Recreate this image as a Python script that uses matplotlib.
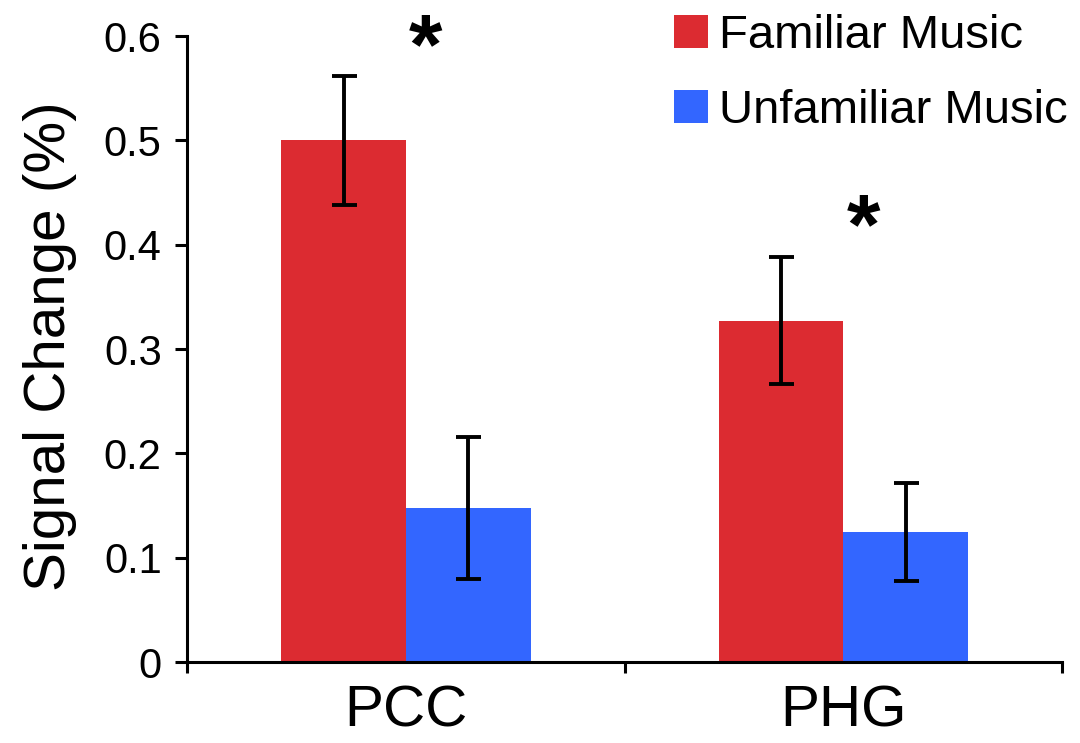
import matplotlib
matplotlib.use("Agg")
import matplotlib.pyplot as plt
import numpy as np

plt.rcParams['font.family'] = ['Liberation Sans', 'DejaVu Sans']

regions = ["PCC", "PHG"]
series_names = ["Familiar Music", "Unfamiliar Music"]
familiar = [0.500, 0.327]
familiar_err = [0.062, 0.061]
unfamiliar = [0.148, 0.125]
unfamiliar_err = [0.068, 0.047]
star_heights = [0.603, 0.430]
y_ticks = [0, 0.1, 0.2, 0.3, 0.4, 0.5, 0.6]
y_tick_labels = ["0", "0.1", "0.2", "0.3", "0.4", "0.5", "0.6"]

red = "#DC2B31"
blue = "#3366FF"

fig = plt.figure(figsize=(10.8, 7.43), dpi=100)
ax = fig.add_axes([0.1735, 0.109, 0.810, 0.8425])

x = np.arange(len(regions))
w = 0.285
err_kw = dict(ecolor="black", elinewidth=2.8, capsize=9, capthick=2.8)
ax.bar(x - w / 2, familiar, w, color=red, yerr=familiar_err,
       error_kw=err_kw, label=series_names[0], zorder=1)
ax.bar(x + w / 2, unfamiliar, w, color=blue, yerr=unfamiliar_err,
       error_kw=err_kw, label=series_names[1], zorder=1)

# significance markers, glyph centred on the given height
for xi, h in zip(x, star_heights):
    ax.annotate("*", xy=(xi + 0.045, h), xytext=(0, -13),
                textcoords="offset points", ha="center", va="center",
                fontsize=62, fontweight="bold", color="black",
                annotation_clip=False)

ax.set_xlim(-0.5, 1.5)
ax.set_ylim(0, 0.6)

for side in ("top", "right"):
    ax.spines[side].set_visible(False)
for side in ("left", "bottom"):
    ax.spines[side].set_linewidth(2.2)
    ax.spines[side].set_zorder(3)

ax.set_yticks(y_ticks)
ax.set_yticklabels(y_tick_labels)
ax.tick_params(axis="y", direction="out", length=8.5, width=2.2,
               labelsize=30, pad=10)

# group boundaries carry the ticks, region names sit under the group centres
ax.set_xticks([-0.5, 0.5, 1.5])
ax.set_xticklabels(["", "", ""])
ax.tick_params(axis="x", which="major", direction="out", length=8, width=2.2)
ax.set_xticks(x, minor=True)
ax.set_xticklabels(regions, minor=True)
ax.tick_params(axis="x", which="minor", length=0, labelsize=42, pad=16)

ax.set_ylabel("Signal Change (%)", fontsize=42)
ax.yaxis.set_label_coords(-0.126, 0.505)

ax.legend(loc="upper right", bbox_to_anchor=(1.006, 1.035), frameon=False,
          fontsize=34, handlelength=0.72, handleheight=0.7,
          handletextpad=0.22, labelspacing=0.66, borderaxespad=0,
          borderpad=0)

fig.savefig("out.png", dpi=100)
